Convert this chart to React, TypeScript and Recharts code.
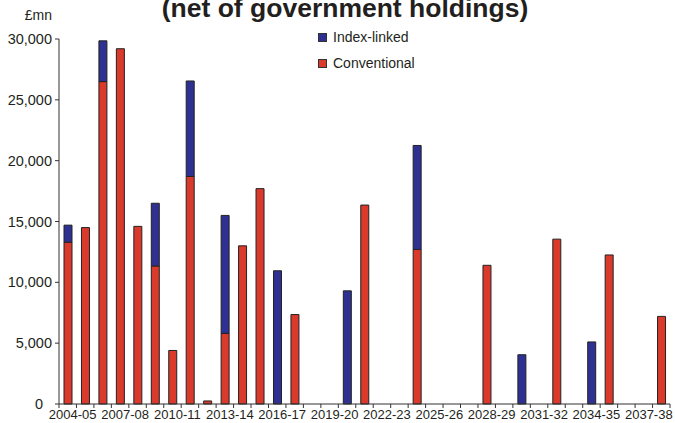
import React from 'react';
import { BarChart, Bar, XAxis, YAxis } from 'recharts';

// financial years on the x axis
const YEARS = [
  '2004-05', '2005-06', '2006-07', '2007-08', '2008-09', '2009-10', '2010-11',
  '2011-12', '2012-13', '2013-14', '2014-15', '2015-16', '2016-17', '2017-18',
  '2018-19', '2019-20', '2020-21', '2021-22', '2022-23', '2023-24', '2024-25',
  '2025-26', '2026-27', '2027-28', '2028-29', '2029-30', '2030-31', '2031-32',
  '2032-33', '2033-34', '2034-35', '2035-36', '2036-37', '2037-38', '2038-39',
];

// £mn
const CONVENTIONAL = [
  13300, 14500, 26500, 29200, 14600, 11350, 4400, 18700, 250, 5800, 13000, 17700,
  0, 7350, 0, 0, 0, 16350, 0, 0, 12700, 0, 0, 0, 11400, 0, 0, 0, 13550, 0, 0,
  12250, 0, 0, 7200,
];
const INDEX_LINKED = [
  1400, 0, 3350, 0, 0, 5150, 0, 7850, 0, 9700, 0, 0, 10950, 0, 0, 0, 9300, 0, 0,
  0, 8550, 0, 0, 0, 0, 0, 4050, 0, 0, 0, 5100, 0, 0, 0, 0,
];

const Y_TICKS = [0, 5000, 10000, 15000, 20000, 25000, 30000];
const LABEL_EVERY = 3;

const SERIES = [
  { key: 'indexLinked', name: 'Index-linked', color: '#2e3192' },
  { key: 'conventional', name: 'Conventional', color: '#d93a2c' },
];

const INK = '#231f20';
const FONT = '"Liberation Sans", Arial, Helvetica, sans-serif';

const W = 675;
const H = 423;
const PLOT_LEFT = 59;
const PLOT_RIGHT = 670;
const BAND = (PLOT_RIGHT - PLOT_LEFT) / YEARS.length;

const data = YEARS.map((year, i) => ({
  year,
  conventional: CONVENTIONAL[i],
  indexLinked: INDEX_LINKED[i],
}));

const XTick = (props: any) => {
  const { x, y, payload, index } = props;
  const i = payload?.index ?? index;
  return (
    <g>
      <line x1={x - BAND / 2} x2={x - BAND / 2} y1={y} y2={y + 4} stroke="#333" />
      {i === YEARS.length - 1 && (
        <line x1={x + BAND / 2} x2={x + BAND / 2} y1={y} y2={y + 4} stroke="#333" />
      )}
      {i % LABEL_EVERY === 0 && (
        <text x={x + 5} y={y + 15} textAnchor="middle" fontSize={13} fill={INK} fontFamily={FONT}>
          {payload.value}
        </text>
      )}
    </g>
  );
};

// the zero label sits a little further left so it clears the first year label
const YTick = (props: any) => {
  const { x, y, payload } = props;
  const shift = payload.value === 0 ? -9 : 0;
  return (
    <text x={x + shift} y={y} dy="0.355em" textAnchor="end" fontSize={14.5} fill={INK} fontFamily={FONT}>
      {Number(payload.value).toLocaleString('en-GB')}
    </text>
  );
};

export default function App() {
  return (
    <div style={{ position: 'absolute', left: 0, top: 0, width: W, height: H, background: '#fff' }}>
      <BarChart
        width={W}
        height={H}
        data={data}
        margin={{ top: 39, right: W - PLOT_RIGHT, bottom: 0, left: 0 }}
        barSize={8}
      >
        <XAxis
          dataKey="year"
          interval={0}
          tickSize={0}
          tickMargin={0}
          tickLine={false}
          height={19}
          axisLine={{ stroke: '#333' }}
          tick={<XTick />}
        />
        <YAxis
          width={PLOT_LEFT}
          domain={[0, 30000]}
          ticks={Y_TICKS}
          interval={0}
          tickSize={4}
          tickMargin={3}
          axisLine={{ stroke: '#333' }}
          tickLine={{ stroke: '#333' }}
          tick={<YTick />}
        />
        <Bar dataKey="conventional" name="Conventional" stackId="a" fill={SERIES[1].color} stroke="#222" strokeWidth={1} isAnimationActive={false} />
        <Bar dataKey="indexLinked" name="Index-linked" stackId="a" fill={SERIES[0].color} stroke="#222" strokeWidth={1} isAnimationActive={false} />
      </BarChart>

      {/* legend */}
      <div style={{ position: 'absolute', left: 318, top: 24, fontFamily: FONT, fontSize: 14, color: INK }}>
        {SERIES.map((s) => (
          <div key={s.key} style={{ display: 'flex', alignItems: 'center', height: 26 }}>
            <span
              style={{
                display: 'inline-block', width: 7, height: 7, background: s.color,
                border: '1px solid #333', marginRight: 6,
              }}
            />
            {s.name}
          </div>
        ))}
      </div>

      <svg width={W} height={H} style={{ position: 'absolute', left: 0, top: 0, pointerEvents: 'none' }}>
        <text x={345} y={17} textAnchor="middle" fontSize={26.5} fontWeight="bold" fill={INK} fontFamily={FONT}>
          (net of government holdings)
        </text>
        <text x={52} y={20} textAnchor="end" fontSize={14} fill={INK} fontFamily={FONT}>
          £mn
        </text>
      </svg>
    </div>
  );
}
